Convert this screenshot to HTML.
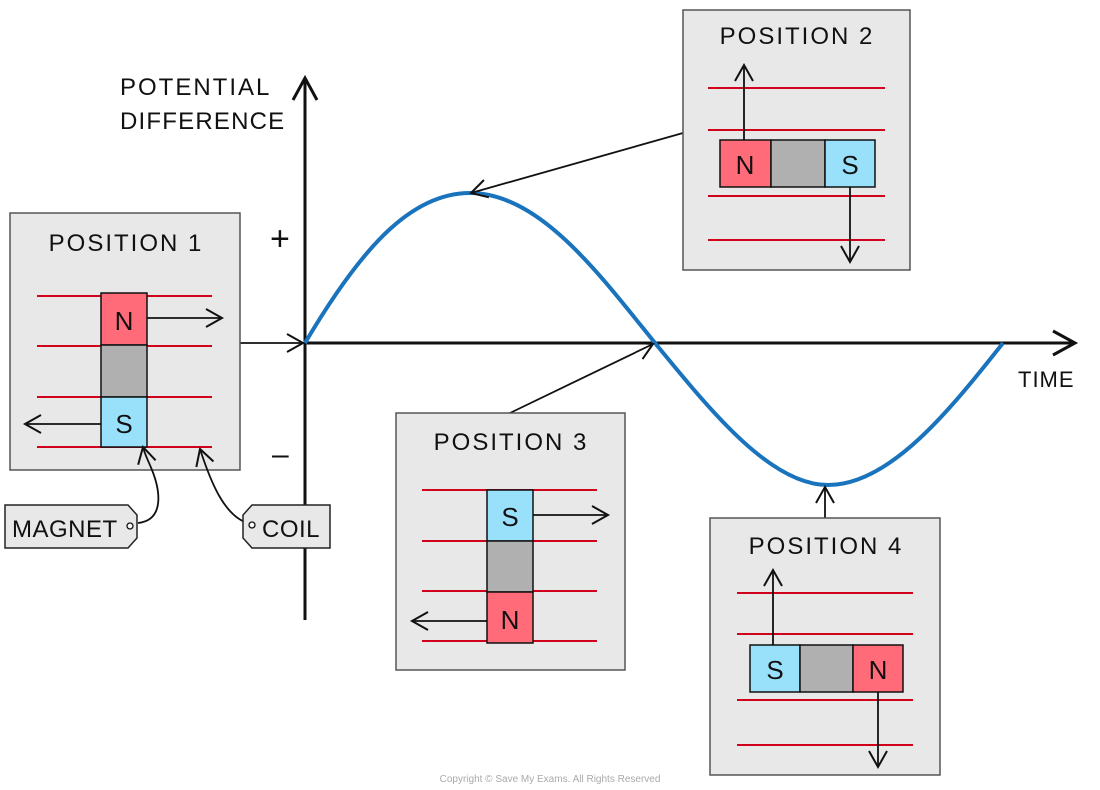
<!DOCTYPE html>
<html><head><meta charset="utf-8"><style>
html,body{margin:0;padding:0;background:#fff;}
svg{display:block;}
text{font-family:"Liberation Sans",sans-serif;fill:#111;}
</style></head><body>
<svg width="1100" height="790" viewBox="0 0 1100 790" xmlns="http://www.w3.org/2000/svg">
<defs>
<marker id="a" markerWidth="24" markerHeight="24" refX="17" refY="10" orient="auto" markerUnits="userSpaceOnUse">
<path d="M1,1 L17,10 L1,19" fill="none" stroke="#111" stroke-width="2"/>
</marker>
</defs>
<g stroke="#111" stroke-width="3" fill="none">
<line x1="305" y1="620" x2="305" y2="80"/>
<path d="M293,100 L305,78 L317,100"/>
<line x1="305" y1="343" x2="1075" y2="343"/>
<path d="M1053,331 L1075,343 L1053,355"/>
</g>
<text x="120" y="95" font-size="24" letter-spacing="2">POTENTIAL</text>
<text x="120" y="129" font-size="24" letter-spacing="1.2">DIFFERENCE</text>
<text x="270" y="250" font-size="34">+</text>
<text x="272" y="464" font-size="30">–</text>
<text x="1018" y="387" font-size="22" letter-spacing="1">TIME</text>
<path d="M305,343 C360,250 410,193 470,193 C540,193 600,275 655,343 C710,410 770,485 828,485 C890,485 950,410 1003,343" fill="none" stroke="#1a73bd" stroke-width="4"/>
<g stroke="#111" stroke-width="1.8" fill="none">
<line x1="240" y1="343" x2="303" y2="343" marker-end="url(#a)"/>
<line x1="683" y1="133" x2="471" y2="193" marker-end="url(#a)"/>
<line x1="510" y1="413" x2="653" y2="344" marker-end="url(#a)"/>
<line x1="825" y1="518" x2="825" y2="487" marker-end="url(#a)"/>
</g>
<!-- Position 1 -->
<rect x="10" y="213" width="230" height="257" fill="#e8e8e8" stroke="#555" stroke-width="1.5"/>
<text x="126" y="251" font-size="24" text-anchor="middle" letter-spacing="2">POSITION  1</text>
<g stroke="#d0021b" stroke-width="2"><line x1="37" y1="296" x2="212" y2="296"/><line x1="37" y1="346" x2="212" y2="346"/><line x1="37" y1="397" x2="212" y2="397"/><line x1="37" y1="447" x2="212" y2="447"/></g>
<g stroke="#111" stroke-width="1.5">
<rect x="101" y="293" width="46" height="52" fill="#ff6b78"/>
<rect x="101" y="345" width="46" height="52" fill="#b0b0b0"/>
<rect x="101" y="397" width="46" height="50" fill="#99e0fa"/>
</g>
<text x="124" y="330" font-size="26" text-anchor="middle">N</text>
<text x="124" y="433" font-size="26" text-anchor="middle">S</text>
<g stroke="#111" stroke-width="1.8" fill="none">
<line x1="147" y1="318" x2="222" y2="318" marker-end="url(#a)"/>
<line x1="101" y1="424" x2="25" y2="424" marker-end="url(#a)"/>
<path d="M138,523 C165,520 160,490 152,470 C148,460 145,455 143,447" marker-end="url(#a)"/>
<path d="M252,524 C225,520 210,480 200,449" marker-end="url(#a)"/>
</g>
<path d="M5,505 L128,505 L137,515 L137,538 L128,548 L5,548 Z" fill="#e8e8e8" stroke="#222" stroke-width="1.5"/>
<text x="12" y="537" font-size="24" letter-spacing="0.5">MAGNET</text>
<circle cx="130" cy="526" r="3" fill="#fff" stroke="#111" stroke-width="1.3"/>
<path d="M252,505 L330,505 L330,548 L252,548 L243,538 L243,515 Z" fill="#e8e8e8" stroke="#222" stroke-width="1.5"/>
<circle cx="252" cy="525" r="3" fill="#fff" stroke="#111" stroke-width="1.3"/>
<text x="262" y="537" font-size="24" letter-spacing="0.5">COIL</text>
<!-- Position 2 -->
<rect x="683" y="10" width="227" height="260" fill="#e8e8e8" stroke="#555" stroke-width="1.5"/>
<text x="797" y="44" font-size="24" text-anchor="middle" letter-spacing="2">POSITION  2</text>
<g stroke="#d0021b" stroke-width="2"><line x1="708" y1="88" x2="885" y2="88"/><line x1="708" y1="130" x2="885" y2="130"/><line x1="708" y1="196" x2="885" y2="196"/><line x1="708" y1="240" x2="885" y2="240"/></g>
<g stroke="#111" stroke-width="1.5">
<rect x="720" y="140" width="51" height="47" fill="#ff6b78"/>
<rect x="771" y="140" width="54" height="47" fill="#b0b0b0"/>
<rect x="825" y="140" width="50" height="47" fill="#99e0fa"/>
</g>
<text x="745" y="174" font-size="26" text-anchor="middle">N</text>
<text x="850" y="174" font-size="26" text-anchor="middle">S</text>
<g stroke="#111" stroke-width="1.8" fill="none">
<line x1="744" y1="140" x2="744" y2="65" marker-end="url(#a)"/>
<line x1="850" y1="187" x2="850" y2="262" marker-end="url(#a)"/>
</g>
<!-- Position 3 -->
<rect x="396" y="413" width="229" height="257" fill="#e8e8e8" stroke="#555" stroke-width="1.5"/>
<text x="511" y="450" font-size="24" text-anchor="middle" letter-spacing="2">POSITION  3</text>
<g stroke="#d0021b" stroke-width="2"><line x1="422" y1="490" x2="597" y2="490"/><line x1="422" y1="541" x2="597" y2="541"/><line x1="422" y1="591" x2="597" y2="591"/><line x1="422" y1="641" x2="597" y2="641"/></g>
<g stroke="#111" stroke-width="1.5">
<rect x="487" y="490" width="46" height="51" fill="#99e0fa"/>
<rect x="487" y="541" width="46" height="51" fill="#b0b0b0"/>
<rect x="487" y="592" width="46" height="51" fill="#ff6b78"/>
</g>
<text x="510" y="526" font-size="26" text-anchor="middle">S</text>
<text x="510" y="629" font-size="26" text-anchor="middle">N</text>
<g stroke="#111" stroke-width="1.8" fill="none">
<line x1="533" y1="515" x2="608" y2="515" marker-end="url(#a)"/>
<line x1="487" y1="621" x2="412" y2="621" marker-end="url(#a)"/>
</g>
<!-- Position 4 -->
<rect x="710" y="518" width="230" height="257" fill="#e8e8e8" stroke="#555" stroke-width="1.5"/>
<text x="826" y="554" font-size="24" text-anchor="middle" letter-spacing="2">POSITION  4</text>
<g stroke="#d0021b" stroke-width="2"><line x1="737" y1="593" x2="913" y2="593"/><line x1="737" y1="634" x2="913" y2="634"/><line x1="737" y1="700" x2="913" y2="700"/><line x1="737" y1="745" x2="913" y2="745"/></g>
<g stroke="#111" stroke-width="1.5">
<rect x="750" y="645" width="50" height="47" fill="#99e0fa"/>
<rect x="800" y="645" width="53" height="47" fill="#b0b0b0"/>
<rect x="853" y="645" width="50" height="47" fill="#ff6b78"/>
</g>
<text x="775" y="679" font-size="26" text-anchor="middle">S</text>
<text x="878" y="679" font-size="26" text-anchor="middle">N</text>
<g stroke="#111" stroke-width="1.8" fill="none">
<line x1="773" y1="645" x2="773" y2="570" marker-end="url(#a)"/>
<line x1="878" y1="692" x2="878" y2="767" marker-end="url(#a)"/>
</g>
<text x="550" y="782" font-size="10" text-anchor="middle" style="fill:#aaa">Copyright © Save My Exams. All Rights Reserved</text>
</svg>
</body></html>
